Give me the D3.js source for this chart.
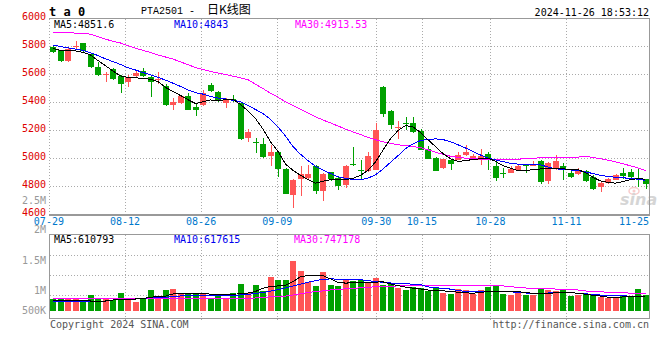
<!DOCTYPE html>
<html><head><meta charset="utf-8">
<script src="https://cdn.jsdelivr.net/npm/d3@7/dist/d3.min.js"></script>
<style>
body{margin:0;background:#fff}
svg{display:block}
text{font-family:"DejaVu Sans Mono",monospace;font-size:10px;white-space:pre}
</style>
</head><body>
<svg id="c" width="660" height="360"></svg>
<script>
// ---------------- data ----------------
const dates = ["07-29","07-30","07-31","08-01","08-02","08-05","08-06","08-07","08-08","08-09",
"08-12","08-13","08-14","08-15","08-16","08-19","08-20","08-21","08-22","08-23",
"08-26","08-27","08-28","08-29","08-30","09-02","09-03","09-04","09-05","09-06",
"09-09","09-10","09-11","09-12","09-13","09-18","09-19","09-20","09-23","09-24",
"09-25","09-26","09-27","09-30","10-08","10-09","10-10","10-11","10-14","10-15",
"10-16","10-17","10-18","10-21","10-22","10-23","10-24","10-25","10-28","10-29",
"10-30","10-31","11-01","11-04","11-05","11-06","11-07","11-08","11-11","11-12",
"11-13","11-14","11-15","11-18","11-19","11-20","11-21","11-22","11-25","11-26"];

const open  = [5795,5772,5700,5798,5822,5745,5655,5598,5640,5586,
5545,5588,5628,5580,5560,5515,5380,5396,5443,5370,
5380,5525,5475,5396,5428,5400,5150,5120,5105,5019,
5050,4926,4741,4853,4860,4950,4771,4903,4860,4812,
4962,4921,4912,4920,5514,5340,5218,5255,5257,5193,
5067,5007,4931,4986,4991,5026,4998,4991,5033,4948,
4898,4900,4919,4955,4952,4979,4836,4926,4943,4900,
4888,4912,4867,4800,4824,4848,4900,4907,4858,4853];
const high  = [5805,5775,5786,5836,5824,5750,5686,5620,5650,5595,
5598,5630,5645,5598,5615,5534,5431,5450,5467,5388,
5490,5538,5485,5430,5455,5405,5212,5146,5146,5098,
5055,4930,4850,4943,4955,4955,4895,4905,4870,4955,
5081,4990,5050,5257,5520,5345,5269,5296,5293,5212,
5090,5010,5000,4995,5050,5098,5035,5067,5050,4979,
4931,4943,4960,4962,4985,4990,4975,5026,4967,4910,
4930,4915,4880,4836,4860,4890,4931,4925,4924,4855];
const low   = [5752,5686,5690,5778,5764,5650,5590,5543,5560,5471,
5510,5582,5582,5436,5534,5378,5343,5390,5345,5305,
5378,5478,5405,5364,5407,5135,5121,5039,5005,4948,
4871,4745,4646,4729,4855,4745,4700,4836,4776,4788,
4948,4843,4905,4915,5300,5212,5139,5205,5180,5058,
4995,4910,4925,4919,4988,5021,4990,4955,4919,4836,
4860,4895,4915,4895,4943,4820,4819,4920,4843,4860,
4880,4833,4776,4764,4817,4843,4853,4860,4800,4781];
const close = [5762,5700,5784,5802,5766,5657,5593,5602,5570,5534,
5580,5610,5587,5543,5565,5380,5405,5448,5348,5350,
5467,5480,5410,5424,5422,5142,5186,5115,5012,5050,
4926,4748,4843,4891,4891,4765,4891,4855,4805,4943,
4958,4917,5019,5205,5317,5236,5224,5250,5186,5062,
4998,4914,4995,4962,5026,5050,5019,5019,4991,4864,
4893,4926,4943,4943,4956,4829,4971,4979,4919,4871,
4914,4836,4781,4824,4853,4884,4876,4871,4853,4817];

const ma5  = [5785,5772,5770,5768,5758,5740,5700,5662,5625,5590,
5580,5576,5573,5565,5550,5508,5478,5450,5420,5393,
5405,5418,5412,5420,5424,5385,5340,5285,5210,5120,
5050,4960,4915,4880,4850,4824,4838,4848,4850,4850,
4858,4880,4915,4975,5060,5140,5200,5235,5225,5185,
5134,5085,5035,4998,4979,4985,4993,4998,5003,4980,
4948,4930,4914,4915,4920,4925,4930,4930,4926,4922,
4920,4900,4865,4840,4830,4824,4835,4850,4856,4852];
const ma10 = [5810,5800,5790,5782,5772,5755,5735,5712,5692,5672,
5648,5632,5614,5598,5580,5560,5538,5515,5490,5470,
5460,5442,5432,5425,5416,5405,5380,5350,5320,5280,
5225,5160,5085,5030,4985,4945,4918,4893,4870,4858,
4850,4848,4860,4884,4925,4972,5020,5070,5105,5128,
5136,5140,5135,5120,5098,5075,5050,5025,5003,4990,
4978,4966,4960,4958,4956,4954,4940,4926,4922,4918,
4913,4905,4892,4880,4872,4866,4862,4858,4852,4843];
const ma30 = [5902,5900,5898,5896,5893,5888,5870,5852,5838,5825,
5805,5788,5772,5757,5740,5725,5710,5690,5670,5650,
5635,5622,5611,5600,5588,5576,5563,5530,5500,5465,
5438,5405,5380,5352,5325,5298,5275,5254,5232,5210,
5190,5172,5150,5134,5120,5108,5098,5092,5085,5078,
5062,5045,5030,5016,5008,5002,4998,4996,4995,4994,
4994,4995,4996,4997,5000,5007,5008,5009,5010,5010,
5010,5015,5008,4998,4988,4976,4962,4948,4932,4914];

const volume = [515,546,546,546,396,692,546,546,471,793,
546,396,573,912,617,912,969,736,736,736,
793,546,736,546,767,1176,793,1132,881,1485,
1352,1352,2203,1762,1278,1088,1705,1132,1088,1383,
1308,1352,1278,1427,1132,1176,1013,912,1057,987,
868,1013,793,736,956,912,736,912,1057,1088,
736,692,793,692,692,956,912,881,912,648,
692,736,722,617,573,573,692,648,943,692].map(v => v * 1000);
const volMa5 = [440,440,440,440,430,427,427,427,470,515,
515,515,530,595,620,645,740,767,767,767,
750,730,722,722,722,750,780,850,990,1070,
1090,1120,1278,1500,1542,1542,1542,1400,1250,1215,
1233,1233,1233,1260,1270,1180,1100,1040,990,960,
910,890,870,860,810,790,767,810,837,865,
860,845,837,800,767,740,760,790,820,810,
760,730,680,645,600,592,605,617,610,611].map(v => v * 1000);
const volMa10 = [427,427,427,427,427,427,427,427,470,515,
515,515,540,573,573,590,630,648,650,655,
658,661,665,675,685,692,720,760,800,860,
930,1000,1090,1170,1250,1320,1380,1400,1390,1383,
1383,1370,1320,1290,1250,1220,1200,1185,1170,1150,
1050,1010,990,950,890,850,837,845,855,865,
860,830,810,780,740,750,780,800,810,790,
770,750,710,690,680,665,655,640,628,618].map(v => v * 1000);
const volMa30 = [546,546,546,546,546,546,546,546,546,530,
530,530,530,530,530,530,530,530,520,520,
520,520,520,520,520,520,540,560,590,610,
625,645,690,750,800,840,870,912,940,965,
985,1005,1030,1057,1070,1080,1090,1095,1101,1101,
1101,1101,1101,1101,1101,1101,1101,1101,1101,1101,
1090,1057,1030,1000,980,970,960,955,950,943,
910,870,845,830,815,800,790,775,760,747].map(v => v * 1000);

const priceTicks = [4600,4800,5000,5200,5400,5600,5800,6000];
const volTicks = [2500000,2000000,1500000,1000000,500000];
const volTickLabels = ["2.5M","2M","1.5M","1M","500K"];
const dateTicks = ["07-29","08-12","08-26","09-09","09-30","10-15","10-28","11-11","11-25"];
const legendMain = ["MA5:4851.6","MA10:4843","MA30:4913.53"];
const legendVol = ["MA5:610793","MA10:617615","MA30:747178"];
const titleCode = "PTA2501 -  ";
const titleName = "日K线图";
const stamp = "2024-11-26 18:53:12";

// ---------------- drawing ----------------
const svg = d3.select("#c");
const RED = "#ff5555", GREEN = "#00a000", GRID = "#aaaaaa", FRAME = "#999999";
const L = 49.25, R = 649.25;

const x = d3.scaleBand().domain(dates).range([L, R]).paddingInner(0.2).paddingOuter(0.1);
const cx = d => x(d) + x.bandwidth() / 2;
const xg = d3.scaleLinear().domain([0, dates.length - 1]).range([48.9, 650.2]);
const y = d3.scaleLinear().domain([4600, 6000]).range([214.5, 18.5]);
const yv = d3.scaleLinear().domain([0, 3400000]).range([310.7, 233.5]);
const yvLab = d3.scaleLinear().domain(volTicks).range([204.3, 233.3, 264.3, 294.3, 314.3]);

const gridIdx = dateTicks.slice(0, -1).map(d => dates.indexOf(d));
const gx = i => Math.round(xg(i)) + 0.5;

// header
svg.append("text").attr("x", 49).attr("y", 16).attr("font-weight", "bold")
  .style("font-size", "12px").text("t a 0");
const t = svg.append("text").attr("x", 141).attr("y", 14);
t.append("tspan").style("font-family", "'Liberation Mono',monospace").style("font-size", "10px").text(titleCode);
t.append("tspan").style("font-family", "'Noto Sans CJK SC',sans-serif").style("font-size", "12px")
  .text(titleName);
svg.append("text").attr("x", 649).attr("y", 15.5).attr("text-anchor", "end").text(stamp);

// main grid
const gMain = svg.append("g").attr("shape-rendering", "crispEdges");
gMain.selectAll("line.h").data(priceTicks.filter(v => v > 4600 && v < 6000)).join("line")
  .attr("x1", 50).attr("x2", 649).attr("y1", d => Math.floor(y(d)) + 0.5).attr("y2", d => Math.floor(y(d)) + 0.5)
  .attr("stroke", GRID).attr("stroke-dasharray", "1,2");
gMain.selectAll("line.v").data(gridIdx).join("line")
  .attr("x1", gx).attr("x2", gx).attr("y1", 19).attr("y2", 217)
  .attr("stroke", GRID).attr("stroke-dasharray", "1,2");
// frame
gMain.append("line").attr("x1", 49).attr("x2", 650).attr("y1", 18.5).attr("y2", 18.5).attr("stroke", FRAME);
gMain.append("line").attr("x1", 649.5).attr("x2", 649.5).attr("y1", 18).attr("y2", 216).attr("stroke", FRAME).attr("stroke-width", 1.5);
gMain.append("line").attr("x1", 49).attr("x2", 650).attr("y1", 215).attr("y2", 215).attr("stroke", FRAME).attr("stroke-width", 2);

// price labels
svg.selectAll("text.py").data(priceTicks).join("text")
  .attr("x", 46).attr("y", d => y(d) + 1.2).attr("text-anchor", "end").attr("fill", "#dd0000")
  .text(d => d);
// volume labels (gray)
svg.selectAll("text.vy").data(volTicks).join("text")
  .attr("x", 46).attr("y", d => yvLab(d)).attr("text-anchor", "end").attr("fill", "#999")
  .text((d, i) => volTickLabels[i]);

// date labels
svg.selectAll("text.dx").data(dateTicks).join("text")
  .attr("x", d => Math.min(xg(dates.indexOf(d)), 649 - 15)).attr("y", 225)
  .attr("text-anchor", "middle").attr("fill", "#0078cc").text(d => d);

// watermark
const wm = svg.append("g").attr("opacity", 0.4);
wm.append("ellipse").attr("cx", 634).attr("cy", 191).attr("rx", 5).attr("ry", 3.5)
  .attr("fill", "none").attr("stroke", "#f08080").attr("stroke-width", 1.5);
wm.append("circle").attr("cx", 634).attr("cy", 191).attr("r", 1.5).attr("fill", "#f08080");
wm.append("text").attr("x", 620).attr("y", 205).style("font-family", "'DejaVu Sans',sans-serif")
  .style("font-size", "16px").style("font-style", "italic").style("font-weight", "bold")
  .attr("fill", "#999").text("sina");

// candles
const cg = svg.append("g").attr("shape-rendering", "crispEdges");
const idx = d3.range(dates.length);
const isUp = i => close[i] >= open[i];
cg.selectAll("rect.w").data(idx).join("rect")
  .attr("x", i => Math.round(cx(dates[i]) - 3) + 3).attr("width", 1)
  .attr("y", i => Math.round(y(high[i]))).attr("height", i => Math.max(1, Math.round(y(low[i])) - Math.round(y(high[i]))))
  .attr("fill", i => isUp(i) ? RED : GREEN);
cg.selectAll("rect.b").data(idx).join("rect")
  .attr("x", i => Math.round(cx(dates[i]) - 3)).attr("width", 6)
  .attr("y", i => Math.round(y(Math.max(open[i], close[i]))))
  .attr("height", i => Math.max(1, Math.round(y(Math.min(open[i], close[i]))) - Math.round(y(Math.max(open[i], close[i])))))
  .attr("fill", i => isUp(i) ? RED : GREEN);

// MA lines
const lineP = d3.line().x((d, i) => cx(dates[i])).y(d => y(d));
[[ma30, "#ff00ff"], [ma10, "#0000ff"], [ma5, "#000000"]].forEach(([s, c]) => {
  svg.append("path").attr("d", lineP(s)).attr("fill", "none").attr("stroke", c)
    .attr("stroke-width", 1).attr("shape-rendering", "crispEdges");
});

// main legend
svg.selectAll("text.lm").data(legendMain).join("text")
  .attr("x", (d, i) => [54, 174, 295][i]).attr("y", 27.5)
  .attr("fill", (d, i) => ["#000", "#0000ee", "#ff00ff"][i]).text(d => d);

// volume panel grid
const gVol = svg.append("g").attr("shape-rendering", "crispEdges");
gVol.selectAll("line.h").data([255.5, 275.5, 295.5]).join("line")
  .attr("x1", 50).attr("x2", 649).attr("y1", d => d).attr("y2", d => d)
  .attr("stroke", GRID).attr("stroke-dasharray", "1,2");
gVol.selectAll("line.v").data(gridIdx.slice(1)).join("line")
  .attr("x1", gx).attr("x2", gx).attr("y1", 235).attr("y2", 322)
  .attr("stroke", GRID).attr("stroke-dasharray", "1,2");
gVol.append("rect").attr("x", 49.5).attr("y", 234.5).attr("width", 600).attr("height", 84)
  .attr("fill", "none").attr("stroke", FRAME).attr("stroke-width", 1.2);

// volume bars
svg.append("g").attr("shape-rendering", "crispEdges").selectAll("rect").data(idx).join("rect")
  .attr("x", i => Math.round(cx(dates[i]) - 3)).attr("width", 6)
  .attr("y", i => Math.round(yv(volume[i]))).attr("height", i => Math.round(yv(0)) - Math.round(yv(volume[i])))
  .attr("fill", i => isUp(i) ? RED : GREEN);

const lineV = d3.line().x((d, i) => cx(dates[i])).y(d => yv(d));
[[volMa30, "#ff00ff"], [volMa10, "#0000ff"], [volMa5, "#000000"]].forEach(([s, c]) => {
  svg.append("path").attr("d", lineV(s)).attr("fill", "none").attr("stroke", c)
    .attr("stroke-width", 1).attr("shape-rendering", "crispEdges");
});

// volume legend
svg.selectAll("text.lv").data(legendVol).join("text")
  .attr("x", (d, i) => [54, 174, 294][i]).attr("y", 242.5)
  .attr("fill", (d, i) => ["#000", "#0000ee", "#ff00ff"][i]).text(d => d);

// footer
svg.append("text").attr("x", 50).attr("y", 327.5).attr("fill", "#555").text("Copyright 2024 SINA.COM");
svg.append("text").attr("x", 649).attr("y", 327.5).attr("text-anchor", "end").attr("fill", "#555").text("http://finance.sina.com.cn");
</script>
</body></html>
